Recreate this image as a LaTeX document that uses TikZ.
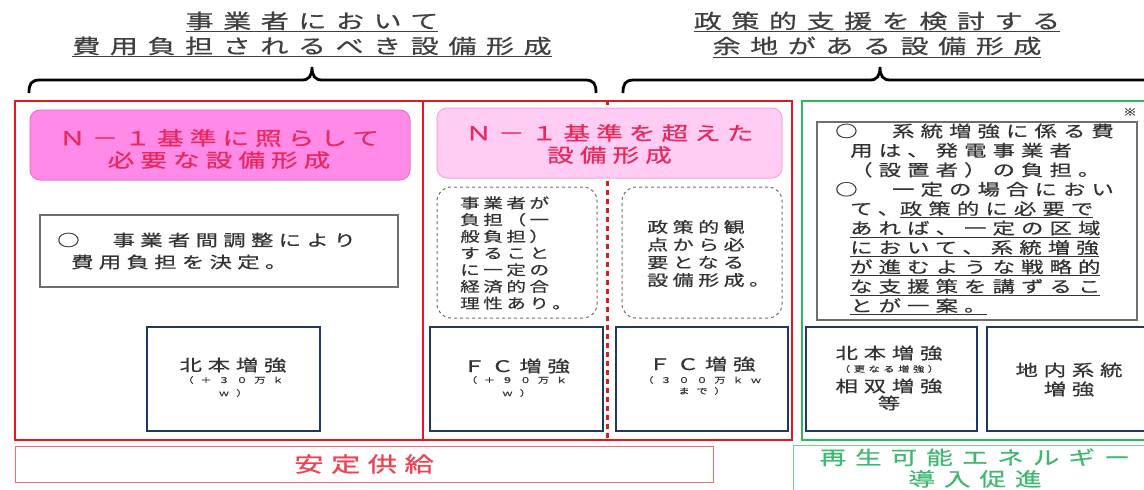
\documentclass[tikz,border=0pt]{standalone}
\usepackage{fontspec}
\newfontfamily\jp{Noto Sans CJK JP}[FakeStretch=1.4,FakeBold=0.6]
\newcommand\jf[3]{\jp\fontsize{#1}{#2}\selectfont\addfontfeatures{LetterSpace=#3}}
\newcommand\rbi{\hspace*{15pt}}
\definecolor{redc}{HTML}{E5161E}
\definecolor{pinkLf}{HTML}{FF8AE8}
\definecolor{pinkLd}{HTML}{F070C8}
\definecolor{pinkMf}{HTML}{FFCCF4}
\definecolor{pinkMd}{HTML}{F2A6DA}
\definecolor{pinktext}{HTML}{E8285A}
\definecolor{navy}{HTML}{1F3864}
\definecolor{greenc}{HTML}{2EB85C}
\definecolor{greenl}{HTML}{70D090}
\definecolor{greent}{HTML}{40B870}
\definecolor{grayb}{HTML}{6E6E6E}
\definecolor{txt}{HTML}{333333}
\definecolor{titlec}{HTML}{404040}
\definecolor{redl}{HTML}{F07070}
\definecolor{redt}{HTML}{F04050}
\begin{document}
\begin{tikzpicture}[x=1pt,y=-1pt,
  redframe/.style={draw=redc,line width=2.5pt,inner sep=0pt},
  greenframe/.style={draw=greenc,line width=2.5pt,inner sep=0pt},
  pinkL/.style={draw=pinkLd,fill=pinkLf,line width=1pt,rounded corners=10pt,inner sep=0pt},
  pinkM/.style={draw=pinkMd,fill=pinkMf,line width=1pt,rounded corners=10pt,inner sep=0pt},
  graybox/.style={draw=grayb,line width=1.5pt,fill=white,inner sep=0pt},
  dashbox/.style={draw=grayb,dashed,line width=1pt,rounded corners=14pt,inner sep=0pt},
  navybox/.style={draw=navy,line width=2.5pt,fill=white,inner sep=0pt,minimum height=104pt},
  txtnode/.style={inner sep=0pt,text=txt},
  bracestyle/.style={draw=black,line width=2.8pt}
]
\useasboundingbox (0,0) rectangle (1144,490);
\clip (0,0) rectangle (1144,490);
\fill[white] (0,0) rectangle (1144,490);

% titles
\node[txtnode,text=titlec,align=center,font={\jf{20}{25}{48}}] (title1) at (312,34.5)
  {\underline{事業者において}\\\underline{費用負担されるべき設備形成}};
\node[txtnode,text=titlec,align=center,font={\jf{20}{25}{48}}] (title2) at (877,34.5)
  {\underline{政策的支援を検討する}\\\underline{余地がある設備形成}};

% braces
\draw[bracestyle] (29,93) .. controls (29,84) and (31,80) .. (40,80) -- (302,80)
  .. controls (309,80) and (312,76) .. (312,67) .. controls (312,76) and (315,80) .. (322,80)
  -- (585,80) .. controls (594,80) and (596,84) .. (596,93);
\draw[bracestyle] (623,93) .. controls (623,84) and (625,80) .. (634,80) -- (870,80)
  .. controls (877,80) and (880,76) .. (880,67) .. controls (880,76) and (883,80) .. (890,80)
  -- (1150,80);

% frames
\node[redframe,minimum width=408pt,minimum height=339pt] (fl) at (219,270.5) {};
\node[redframe,minimum width=369pt,minimum height=339pt] (fm) at (607.5,270.5) {};
\node[greenframe,minimum width=360pt,minimum height=339pt] (fr) at (982,270.5) {};
\draw[redc,line width=2.5pt,dash pattern=on 5pt off 4pt] (fm.north) -- (fm.south);

% pink headers
\node[pinkL,minimum width=380pt,minimum height=70pt] (pl) at (220,145) {};
\node[txtnode,text=pinktext,align=center,font={\jf{19}{22}{32}}] (plt) at (219,149)
  {Ｎ－１基準に照らして\\必要な設備形成};
\node[pinkM,minimum width=345pt,minimum height=70pt] (pm) at (609.5,143) {};
\node[txtnode,text=pinktext,align=center,font={\jf{19}{22}{32}}] (pmt) at (609.5,144)
  {Ｎ－１基準を超えた\\設備形成};

% left text box
\node[graybox,minimum width=358pt,minimum height=72pt] (wl) at (219,251) {};
\node[txtnode,align=left,anchor=west,font={\jf{16}{22}{33}}] (wlt) at (57,251)
  {○　事業者間調整により\\\hspace*{14pt}費用負担を決定。};

% dashed boxes
\node[dashbox,minimum width=160pt,minimum height=131pt] (d1) at (517,252.5) {};
\node[txtnode,align=left,anchor=west,font={\jf{14}{16.7}{25}}] (d1t) at (460,253)
  {事業者が\\負担（一\\般負担）\\すること\\に一定の\\経済的合\\理性あり。};
\node[dashbox,minimum width=160pt,minimum height=131pt] (d2) at (702,252.5) {};
\node[txtnode,align=left,anchor=west,font={\jf{15}{17.7}{30}}] (d2t) at (647,253.5)
  {政策的観\\点から必\\要となる\\設備形成。};

% right text box
\node[txtnode,font={\jf{10}{12}{20}}] (kome) at (1130,112) {※};
\node[graybox,minimum width=320pt,minimum height=198pt] (rb) at (977,221) {};
\node[txtnode,anchor=west,font={\jf{16}{19.4}{38}}] (rbt) at (835,220.5)
  {\begin{tabular}{@{}l@{}}○　系統増強に係る費\\
   \rbi 用は、発電事業者\\
   \rbi （設置者）の負担。\\
   ○　一定の場合におい\\
   \rbi て、\underline{政策的に必要で}\\
   \rbi\underline{あれば、一定の区域}\\
   \rbi\underline{において、系統増強}\\
   \rbi\underline{が進むような戦略的}\\
   \rbi\underline{な支援策を講ずるこ}\\
   \rbi\underline{とが一案。}\end{tabular}};

% navy boxes
\node[navybox,minimum width=173pt] (b1) at (233.5,379) {};
\node[txtnode,font={\jf{16}{16}{36}}] (b1a) at (233,365) {北本増強};
\node[txtnode,font={\jf{8}{9}{85}}] (b1b) at (233,380) {（＋３０万ｋ};
\node[txtnode,font={\jf{8}{9}{85}}] (b1c) at (233,393) {ｗ）};

\node[navybox,minimum width=173pt] (b2) at (516.5,379) {};
\node[txtnode,font={\jf{16}{16}{36}}] (b2a) at (516.5,366) {ＦＣ増強};
\node[txtnode,font={\jf{8}{9}{85}}] (b2b) at (516.5,380) {（＋９０万ｋ};
\node[txtnode,font={\jf{8}{9}{85}}] (b2c) at (516.5,393) {ｗ）};

\node[navybox,minimum width=172pt] (b3) at (702,379) {};
\node[txtnode,font={\jf{16}{16}{36}}] (b3a) at (702,364) {ＦＣ増強};
\node[txtnode,font={\jf{8}{9}{85}}] (b3b) at (702,380) {（３００万ｋｗ};
\node[txtnode,font={\jf{8}{9}{85}}] (b3c) at (702,391) {まで）};

\node[navybox,minimum width=171pt] (b4) at (891.5,379) {};
\node[txtnode,font={\jf{16}{16}{36}}] (b4a) at (889,353) {北本増強};
\node[txtnode,font={\jf{8}{9}{45}}] (b4b) at (889,369) {（更なる増強）};
\node[txtnode,font={\jf{16}{16}{36}}] (b4c) at (889,386) {相双増強};
\node[txtnode,font={\jf{16}{16}{36}}] (b4d) at (889,403) {等};

\node[navybox,minimum width=164pt] (b5) at (1069,379) {};
\node[txtnode,align=center,font={\jf{16}{19}{36}}] (b5a) at (1069,379.5) {地内系統\\増強};

% bottom labels
\node[draw=redl,line width=1pt,minimum width=698pt,minimum height=36pt,inner sep=0pt] (anb) at (364,464) {};
\node[txtnode,text=redt,font={\jf{21}{24}{35}}] (ant) at (364,464) {安定供給};
\node[draw=greenl,line width=1pt,minimum width=367pt,minimum height=58pt,inner sep=0pt] (reb) at (976.5,474) {};
\node[txtnode,text=greent,align=center,font={\jf{19}{21.5}{47}}] (ret) at (975,468) {再生可能エネルギー\\導入促進};
\end{tikzpicture}
\end{document}
